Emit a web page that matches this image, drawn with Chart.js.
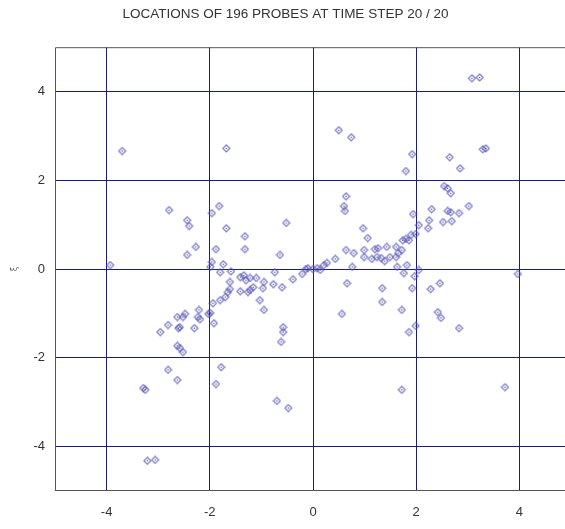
<!DOCTYPE html>
<html>
<head>
<meta charset="utf-8">
<script src="https://cdn.jsdelivr.net/npm/chart.js@4/dist/chart.umd.min.js"></script>
<style>
html,body{margin:0;padding:0;background:#fff;overflow:hidden;width:565px;height:529px;}
canvas{display:block;}
</style>
</head>
<body>
<canvas id="c" width="580" height="529"></canvas>
<script>
const chartTitle = "LOCATIONS OF 196 PROBES AT TIME STEP 20 / 20";
const yAxisLabel = "ξ";
const xTicks = [-4, -2, 0, 2, 4];
const yTicks = [-4, -2, 0, 2, 4];

const probeX = [
 -3.70,-1.68,0.50,0.74,3.08,3.23,3.29,3.35,1.92,1.80,2.65,2.85,2.54,2.61,2.67,0.64,0.60,0.62,1.94,2.30,
 2.61,2.67,2.83,3.02,2.05,2.25,2.23,2.52,2.69,0.97,1.06,0.64,0.79,0.43,0.99,1.20,1.26,1.43,1.61,1.74,
 1.80,1.86,1.72,0.99,1.14,1.24,1.32,1.39,1.49,1.61,1.65,1.90,1.99,1.63,1.82,0.76,0.66,-0.10,0.14,0.21,
 0.27,1.76,1.97,2.05,1.34,1.92,2.28,2.46,3.97,0.56,1.34,1.72,1.86,1.99,2.42,2.48,2.83,1.72,3.72,0.00,
 0.08,
 -2.79,-2.44,-2.40,-2.27,-2.44,-1.96,-1.82,-1.68,-1.32,-1.32,-0.52,-0.64,-1.88,-1.96,-1.74,-3.93,-1.99,-1.80,-1.59,
 -1.61,-1.41,-1.34,-1.30,-1.22,-1.10,-0.95,-0.74,-0.77,-0.60,-0.39,-0.21,-0.97,-1.16,-1.22,-1.41,-1.61,-1.65,-1.70,-1.80,
 -1.94,-1.03,-0.95,-2.21,-2.48,-2.52,-2.19,-2.63,-2.03,-2.81,-2.58,-2.61,-2.30,-2.96,-1.92,-0.58,-0.58,-0.62,-2.63,-2.58,
 -2.52,-2.81,-2.63,-3.29,-3.25,-3.21,-3.06,-1.78,-1.88,-0.70,-0.48,-2.23,-1.99,-0.14,-1.26
];
const probeY = [
 2.66,2.72,3.13,2.97,4.30,4.32,2.70,2.72,2.59,2.21,2.52,2.27,1.87,1.82,1.71,1.64,1.42,1.31,1.24,1.35,
 1.31,1.28,1.26,1.42,0.99,1.10,0.92,1.06,1.08,0.92,0.70,0.43,0.36,0.23,0.43,0.45,0.47,0.50,0.50,0.65,
 0.68,0.65,0.43,0.27,0.23,0.27,0.25,0.18,0.27,0.27,0.36,0.77,0.79,0.05,0.09,0.05,-0.32,0.02,-0.02,0.09,
 0.14,-0.09,-0.16,-0.02,-0.43,-0.43,-0.45,-0.32,-0.11,-1.01,-0.74,-0.92,-1.42,-1.28,-0.97,-1.10,-1.33,-2.72,-2.66,0.00,
 0.02,
 1.33,1.10,0.97,0.50,0.32,1.26,1.42,0.92,0.74,0.45,1.04,0.32,0.45,0.16,0.11,0.09,0.05,-0.07,-0.05,
 -0.29,-0.18,-0.14,-0.25,-0.20,-0.20,-0.29,-0.07,-0.34,-0.41,-0.23,-0.11,-0.43,-0.41,-0.47,-0.50,-0.45,-0.52,-0.63,-0.70,
 -0.77,-0.70,-0.92,-0.92,-1.01,-1.08,-1.13,-1.08,-1.01,-1.26,-1.31,-1.33,-1.33,-1.42,-1.22,-1.31,-1.42,-1.64,-1.73,-1.78,
 -1.87,-2.27,-2.50,-2.68,-2.72,-4.32,-4.30,-2.21,-2.59,-2.97,-3.13,-1.08,-0.99,0.00,-0.52
];

const points = probeX.map((x, i) => ({ x: x, y: probeY[i] }));

// diamond marker with centre dot
const marker = document.createElement('canvas');
marker.width = 9; marker.height = 9;
(function () {
  const g = marker.getContext('2d');
  g.strokeStyle = 'rgba(80,80,180,0.8)';
  g.lineWidth = 1.1;
  g.beginPath();
  g.moveTo(4.5, 1); g.lineTo(8, 4.5); g.lineTo(4.5, 8); g.lineTo(1, 4.5); g.closePath();
  g.stroke();
  g.fillStyle = '#20208a';
  g.fillRect(4, 4, 1, 1);
})();

const framePlugin = {
  id: 'frame',
  beforeDatasetsDraw(chart) {
    const a = chart.chartArea, c = chart.ctx;
    c.save();
    c.strokeStyle = '#555555';
    c.lineWidth = 1;
    c.beginPath();
    c.moveTo(a.left + 0.5, a.bottom);
    c.lineTo(a.left + 0.5, a.top + 0.5);
    c.lineTo(a.right, a.top + 0.5);
    c.moveTo(a.left, a.bottom - 0.5);
    c.lineTo(a.right, a.bottom - 0.5);
    c.stroke();
    c.restore();
  }
};

new Chart(document.getElementById('c'), {
  type: 'scatter',
  data: {
    datasets: [{
      data: points,
      pointStyle: marker,
      pointRadius: 4,
      pointHoverRadius: 4
    }]
  },
  options: {
    responsive: false,
    animation: false,
    devicePixelRatio: 1,
    layout: { padding: { left: 0, right: 9, top: 0, bottom: 0 } },
    plugins: {
      legend: { display: false },
      tooltip: { enabled: false },
      title: {
        display: true,
        text: chartTitle,
        color: '#333333',
        font: { family: 'Liberation Sans, Arial, sans-serif', size: 13.5, weight: 'normal' },
        padding: { top: 6, bottom: 25 }
      }
    },
    scales: {
      x: {
        type: 'linear',
        min: -5, max: 5,
        afterBuildTicks: s => { s.ticks = xTicks.map(v => ({ value: v })); },
        afterFit: s => { s.height = 38; },
        grid: { color: '#1c1c80', lineWidth: 1, drawTicks: false },
        border: { display: false },
        ticks: {
          color: '#333333',
          padding: 14,
          maxRotation: 0,
          font: { family: 'Liberation Sans, Arial, sans-serif', size: 13 }
        }
      },
      y: {
        type: 'linear',
        min: -5, max: 5,
        afterBuildTicks: s => { s.ticks = yTicks.map(v => ({ value: v })); },
        afterFit: s => { s.width = 55; },
        grid: { color: '#1c1c80', lineWidth: 1, drawTicks: false },
        border: { display: false },
        title: {
          display: true,
          text: yAxisLabel,
          color: '#666666',
          padding: { top: 10, bottom: 0 },
          font: { family: 'DejaVu Sans, sans-serif', size: 8 }
        },
        ticks: {
          color: '#333333',
          padding: 10,
          font: { family: 'Liberation Sans, Arial, sans-serif', size: 13 }
        }
      }
    }
  },
  plugins: [framePlugin]
});
</script>
</body>
</html>
